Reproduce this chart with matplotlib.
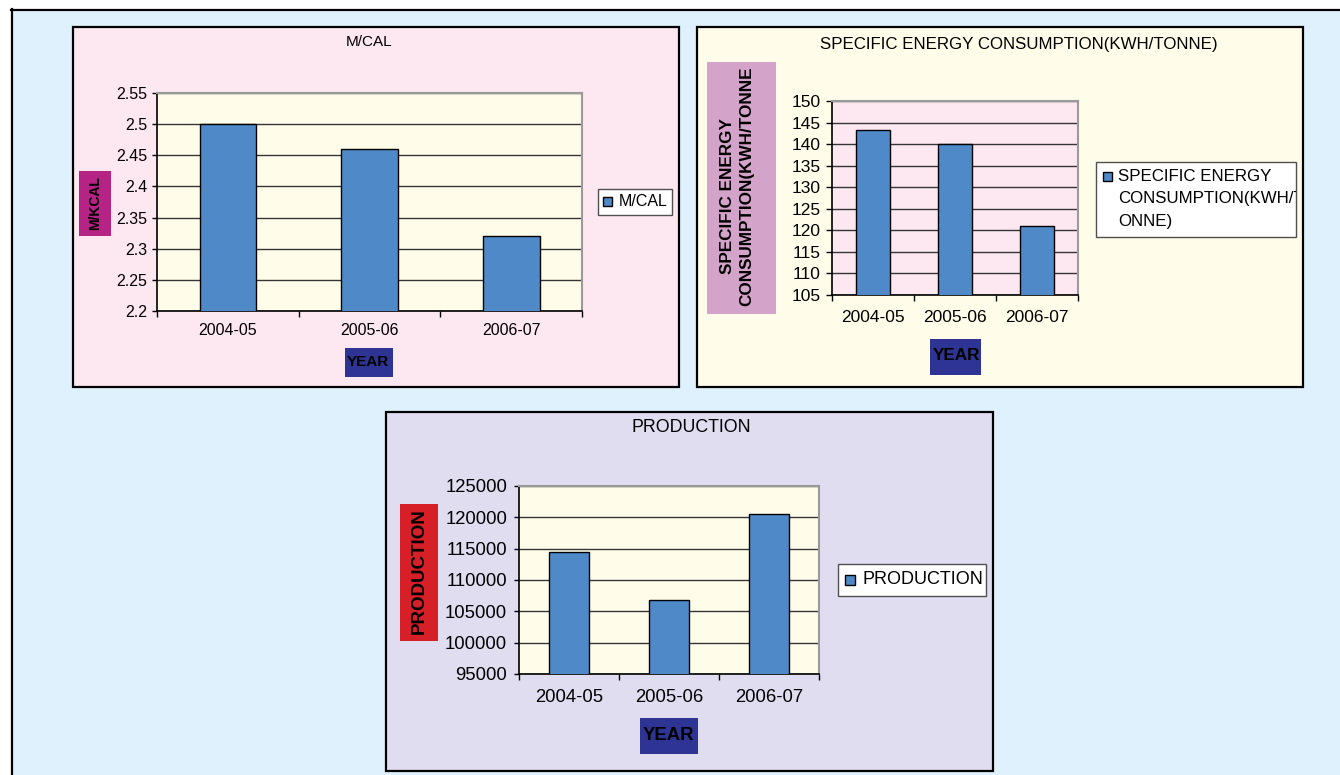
import numpy as np
import matplotlib
matplotlib.use("Agg")
import matplotlib.pyplot as plt
from matplotlib.patches import Rectangle
from matplotlib.lines import Line2D

# --- Données ---
years = ["2004-05", "2005-06", "2006-07"]
mcal = [2.50, 2.46, 2.32]
sec = [143.3, 140.0, 121.0]
production = [114500, 106800, 120600]

mcal_ticks = [2.2, 2.25, 2.3, 2.35, 2.4, 2.45, 2.5, 2.55]
sec_ticks = [105, 110, 115, 120, 125, 130, 135, 140, 145, 150]
prod_ticks = [95000, 100000, 105000, 110000, 115000, 120000, 125000]

# --- Couleurs ---
BG_OUT = "#dff1fc"
PINK = "#fde7f1"
CREAM = "#fffde9"
LAVENDER = "#e1ddf0"
BAR = "#4f89c7"
NAVY = "#2e3494"

plt.rcParams["font.family"] = ["Liberation Sans", "DejaVu Sans"]

W, H = 1340, 775
fig = plt.figure(figsize=(W / 100, H / 100), dpi=100, facecolor="white")


def fx(x):
    return x / W


def fy(y):
    return 1 - y / H


def rect(x0, y0, x1, y1, **kw):
    r = Rectangle((fx(x0), fy(y1)), (x1 - x0) / W, (y1 - y0) / H,
                  transform=fig.transFigure, **kw)
    fig.add_artist(r)
    return r


def text(x, y, s, **kw):
    return fig.text(fx(x), fy(y), s, **kw)


def legend_box(x0, y0, x1, y1, lines, color, size, sq, line_h, tx):
    box = rect(x0, y0, x1, y1, facecolor="white", edgecolor="#505050", lw=1.0, zorder=5)
    rect(sq[0], sq[1], sq[0] + sq[2], sq[1] + sq[2], facecolor=color,
         edgecolor="black", lw=1.0, zorder=6)
    for i, s in enumerate(lines):
        t = text(tx, sq[1] + sq[2] / 2 + i * line_h, s, fontsize=size,
                 ha="left", va="center", zorder=6)
        t.set_clip_path(box)


def bar_panel(box, values, ticks, ylim, bg, tsize, ypad, ylen, xpad, bar_w):
    x0, y0, x1, y1 = box
    ax = fig.add_axes([fx(x0), fy(y1), (x1 - x0) / W, (y1 - y0) / H])
    ax.set_zorder(2)
    ax.set_facecolor(bg)
    bars = ax.bar(range(len(years)), values, width=bar_w, color=BAR,
                  edgecolor="black", lw=1.0, zorder=3)
    ax.set_xlim(-0.5, len(years) - 0.5)
    ax.set_ylim(*ylim)
    ax.set_yticks(ticks)
    ax.set_yticklabels([f"{t:g}" for t in ticks])
    ax.yaxis.grid(True, color="#353535", lw=1.0)
    ax.set_axisbelow(True)

    ax.set_xticks(np.arange(len(years) + 1) - 0.5)
    ax.set_xticklabels([])
    ax.set_xticks(range(len(years)), minor=True)
    ax.set_xticklabels(years, minor=True)
    ax.tick_params(axis="x", which="major", direction="out", length=4, width=1)
    ax.tick_params(axis="x", which="minor", length=0, pad=xpad, labelsize=tsize)
    ax.tick_params(axis="y", direction="out", length=ylen, width=1, pad=ypad,
                   labelsize=tsize)

    for side in ("left", "bottom"):
        ax.spines[side].set_color("black")
        ax.spines[side].set_linewidth(1.2)
    for side in ("top", "right"):
        ax.spines[side].set_color("#9a9a9a")
        ax.spines[side].set_linewidth(1.5)
    return bars


# --- Fond général ---
rect(11, 9, W + 5, H + 5, facecolor=BG_OUT, edgecolor="none", zorder=0)
fig.add_artist(Line2D([fx(11), fx(W)], [fy(9.5), fy(9.5)], color="black",
                      lw=1.6, transform=fig.transFigure))
fig.add_artist(Line2D([fx(11.5), fx(11.5)], [fy(9), fy(H)], color="black",
                      lw=1.6, transform=fig.transFigure))

# --- Panneau 1 : M/CAL ---
rect(73, 27, 679, 387, facecolor=PINK, edgecolor="black", lw=1.6, zorder=1)
bars1 = bar_panel((157, 93, 582, 311), mcal, mcal_ticks, (2.2, 2.55), CREAM,
                  11.5, 3.5, 3.4, 8.5, 0.4)
text(369, 42, "M/CAL", fontsize=11, ha="center", va="center")
rect(79, 171, 111, 236, facecolor="#b52385", edgecolor="none", zorder=2)
text(95, 203, "M/KCAL", fontsize=10, fontweight="bold", rotation=90,
     ha="center", va="center", zorder=3)
rect(345, 348, 393, 377, facecolor=NAVY, edgecolor="none", zorder=2)
text(347, 362, "YEAR", fontsize=11, fontweight="bold", ha="left",
     va="center", zorder=3)
legend_box(598, 189, 672, 215, ["M/CAL"], bars1.patches[0].get_facecolor(),
           11.5, (603, 197, 9), 0, 619)

# --- Panneau 2 : consommation spécifique ---
rect(697, 27, 1303, 387, facecolor=CREAM, edgecolor="black", lw=1.6, zorder=1)
bars2 = bar_panel((832, 101, 1078, 295), sec, sec_ticks, (105, 150), PINK,
                  12.5, 4, 4, 10.5, 0.415)
text(1019, 45, "SPECIFIC ENERGY CONSUMPTION(KWH/TONNE)", fontsize=12.2,
     ha="center", va="center")
rect(707, 62, 776, 314, facecolor="#d4a3c9", edgecolor="none", zorder=2)
text(727, 196, "SPECIFIC ENERGY", fontsize=12.3, fontweight="bold",
     rotation=90, ha="center", va="center", zorder=3)
text(747, 186, "CONSUMPTION(KWH/TONNE", fontsize=12.3, fontweight="bold",
     rotation=90, ha="center", va="center", zorder=3)
rect(930, 339, 981, 375, facecolor=NAVY, edgecolor="none", zorder=2)
text(933, 356, "YEAR", fontsize=12.3, fontweight="bold", ha="left",
     va="center", zorder=3)
legend_box(1096, 162, 1296, 237,
           ["SPECIFIC ENERGY", "CONSUMPTION(KWH/T", "ONNE)"],
           bars2.patches[0].get_facecolor(), 12.2, (1103, 172, 9), 22.5, 1118)

# --- Panneau 3 : production ---
rect(386, 412, 993, 771, facecolor=LAVENDER, edgecolor="black", lw=1.6, zorder=1)
bars3 = bar_panel((519, 486, 819, 674), production, prod_ticks, (95000, 125000),
                  CREAM, 13.3, 5, 3.6, 10.5, 0.4)
text(691, 428, "PRODUCTION", fontsize=12.8, ha="center", va="center")
rect(400, 504, 438, 641, facecolor="#d71f27", edgecolor="none", zorder=2)
text(419, 571, "PRODUCTION", fontsize=13.5, fontweight="bold", rotation=90,
     ha="center", va="center", zorder=3)
rect(640, 718, 698, 754, facecolor=NAVY, edgecolor="none", zorder=2)
text(643, 735, "YEAR", fontsize=13.3, fontweight="bold", ha="left",
     va="center", zorder=3)
legend_box(838, 564, 986, 596, ["PRODUCTION"], bars3.patches[0].get_facecolor(),
           13, (845, 575, 10), 0, 863)

fig.savefig("out.png", dpi=100, facecolor=fig.get_facecolor())
